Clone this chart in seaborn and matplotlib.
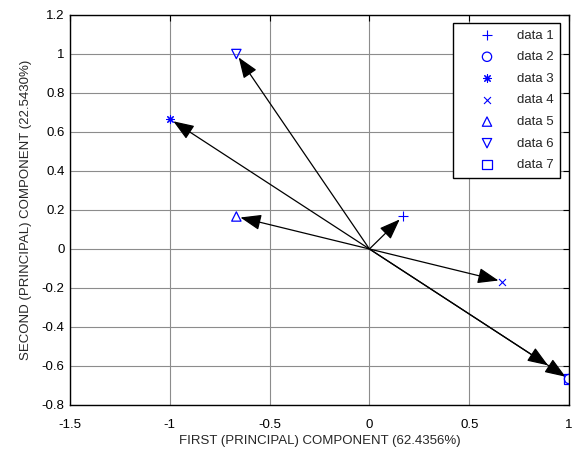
import matplotlib
matplotlib.use("Agg")
import matplotlib.pyplot as plt
import matplotlib.ticker as mticker
import seaborn as sns
import numpy as np

# ── Data ───────────────────────────────────────────────────────────
labels = ["data 1", "data 2", "data 3", "data 4", "data 5", "data 6", "data 7"]
pc1 = [0.1667, 1.0, -1.0, 0.6667, -0.6667, -0.6667, 1.0]
pc2 = [0.1667, -0.6667, 0.6667, -0.1667, 0.1667, 1.0, -0.6667]
markers = ["+", "o", (8, 2, 0), "x", "^", "v", "s"]

x_ticks = [-1.5, -1, -0.5, 0, 0.5, 1]
y_ticks = [-0.8, -0.6, -0.4, -0.2, 0, 0.2, 0.4, 0.6, 0.8, 1, 1.2]

# ── Style ──────────────────────────────────────────────────────────
sns.set_style("white")
plt.rcParams.update({
    "font.family": ["Liberation Sans", "DejaVu Sans"],
    "font.size": 9.5,
    "axes.linewidth": 1.0,
    "xtick.direction": "in",
    "ytick.direction": "in",
    "xtick.top": True,
    "ytick.right": True,
    "xtick.major.size": 4,
    "ytick.major.size": 4,
    "xtick.major.pad": 10,
    "ytick.major.pad": 4,
    "xtick.color": "black",
    "ytick.color": "black",
})

fig = plt.figure(figsize=(5.72, 4.49), dpi=100)
ax = fig.add_axes([0.1224, 0.098, 0.8724, 0.8686])

# arrows from origin to each point (data 2 overlaps data 7, drawn a bit shorter)
for i, (x, y) in enumerate(zip(pc1, pc2)):
    shrink = 18 if labels[i] == "data 2" else 3
    ax.annotate("", xy=(x, y), xytext=(0, 0),
                arrowprops=dict(arrowstyle="-|>,head_length=0.85,head_width=0.32",
                                color="black", lw=0.9, shrinkA=0, shrinkB=shrink,
                                mutation_scale=15))

for x, y, m, lab in zip(pc1, pc2, markers, labels):
    mk = matplotlib.markers.MarkerStyle(m)
    if mk.is_filled():
        sns.scatterplot(x=[x], y=[y], marker=m, s=45, ax=ax, label=lab,
                        facecolor="none", edgecolor="blue", linewidth=0.9, zorder=3)
    else:
        size = {"+": 50, "x": 25}.get(m, 30)
        sns.scatterplot(x=[x], y=[y], marker=m, s=size, ax=ax, label=lab,
                        color="blue", linewidth=0.8, zorder=3)

ax.set_xlim(-1.5, 1)
ax.set_ylim(-0.8, 1.2)
ax.set_xticks(x_ticks)
ax.set_yticks(y_ticks)
fmt = mticker.FuncFormatter(lambda v, _: f"{v:g}")
ax.xaxis.set_major_formatter(fmt)
ax.yaxis.set_major_formatter(fmt)
ax.grid(True, color="#8c8c8c", linewidth=0.8)
ax.set_axisbelow(True)
for s in ax.spines.values():
    s.set_color("black")

ax.set_xlabel("FIRST (PRINCIPAL) COMPONENT (62.4356%)", labelpad=3)
ax.set_ylabel("SECOND (PRINCIPAL) COMPONENT (22.5430%)", labelpad=7)

leg = ax.legend(loc="upper right", bbox_to_anchor=(0.982, 0.98), borderaxespad=0,
                fancybox=False, framealpha=1, edgecolor="black", scatterpoints=1,
                labelspacing=0.71, handletextpad=0.2, borderpad=0.5, handlelength=4.1)
leg.get_frame().set_linewidth(1.0)

fig.savefig("out.png", dpi=100, facecolor="white")
